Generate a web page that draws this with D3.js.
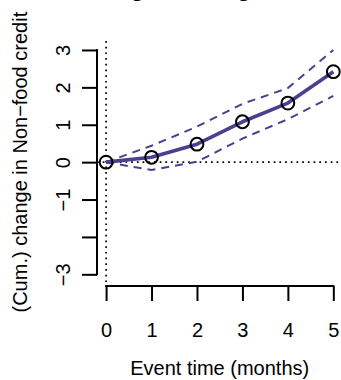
<!DOCTYPE html>
<html>
<head>
<meta charset="utf-8">
<script src="https://cdn.jsdelivr.net/npm/d3@7"></script>
<style>
  html, body { margin: 0; padding: 0; background: #fff; }
  svg { display: block; }
  text { font-family: "Liberation Sans", Arial, Helvetica, sans-serif; fill: #000; }
</style>
</head>
<body>
<svg id="chart" width="341" height="380"></svg>
<script>
// ---- data ----
const titleText = "Foreign lending to NBFCs";
const xLabel = "Event time (months)";
const yLabel = "(Cum.) change in Non\u2212food credit";
const months = [0, 1, 2, 3, 4, 5];
const estimate = [0, 0.13, 0.48, 1.08, 1.58, 2.42];
const upperBand = [0, 0.44, 0.95, 1.56, 1.98, 3.0];
const lowerBand = [0, -0.21, 0.01, 0.63, 1.15, 1.77];
const xTicks = [0, 1, 2, 3, 4, 5];
const xTickLabels = ["0", "1", "2", "3", "4", "5"];
const yTicks = [-3, -2, -1, 0, 1, 2, 3];
const yTickLabels = ["\u22123", "", "\u22121", "0", "1", "2", "3"];

// ---- layout ----
const svg = d3.select("#chart");
const plotLeft = 97, plotRight = 342.4, plotTop = 41, plotBottom = 283.3;
const x = d3.scaleLinear().domain([-0.2, 5.2]).range([plotLeft, plotRight]);
const y = d3.scaleLinear().domain([-3.24, 3.24]).range([plotBottom, plotTop]);
const purple = "#4a3f91";

// reference dotted lines
svg.append("line")
  .attr("x1", x(0)).attr("x2", x(0)).attr("y1", plotTop).attr("y2", plotBottom)
  .attr("stroke", "#000").attr("stroke-width", 1.7).attr("stroke-dasharray", "1.7,4");
svg.append("line")
  .attr("x1", plotLeft).attr("x2", plotRight).attr("y1", y(0)).attr("y2", y(0))
  .attr("stroke", "#000").attr("stroke-width", 1.7).attr("stroke-dasharray", "1.7,4");

// bands
const lineGen = d3.line().x((d, i) => x(months[i])).y(d => y(d));
[upperBand, lowerBand].forEach(arr => {
  svg.append("path").datum(arr).attr("d", lineGen)
    .attr("fill", "none").attr("stroke", purple).attr("stroke-width", 2)
    .attr("stroke-dasharray", "8,6");
});
// estimate
svg.append("path").datum(estimate).attr("d", lineGen)
  .attr("fill", "none").attr("stroke", purple).attr("stroke-width", 3.6)
  .attr("stroke-linejoin", "round");
svg.selectAll("circle.pt").data(estimate).enter().append("circle")
  .attr("class", "pt")
  .attr("cx", (d, i) => x(months[i])).attr("cy", d => y(d)).attr("r", 6.4)
  .attr("fill", "none").attr("stroke", "#000").attr("stroke-width", 2);

// x axis
const xAxisY = 286;
const xAxis = d3.axisBottom(x).tickValues(xTicks).tickSize(15)
  .tickFormat((d, i) => xTickLabels[i]);
const gx = svg.append("g").attr("transform", `translate(0,${xAxisY})`).call(xAxis);
gx.select(".domain").remove();
gx.append("line").attr("x1", x(xTicks[0])).attr("x2", x(xTicks[xTicks.length - 1]))
  .attr("stroke", "#000").attr("stroke-width", 2).attr("stroke-linecap", "square");
gx.selectAll(".tick line").attr("stroke", "#000").attr("stroke-width", 2);
gx.selectAll(".tick text").attr("y", null).attr("dy", null)
  .attr("transform", "translate(0,51)")
  .style("font-size", "20px").attr("fill", "#000");

// y axis
const yAxisX = plotLeft;
const yAxis = d3.axisLeft(y).tickValues(yTicks).tickSize(15)
  .tickFormat((d, i) => yTickLabels[i]);
const gy = svg.append("g").attr("transform", `translate(${yAxisX},0)`).call(yAxis);
gy.select(".domain").remove();
gy.append("line").attr("y1", y(yTicks[0])).attr("y2", y(yTicks[yTicks.length - 1]))
  .attr("stroke", "#000").attr("stroke-width", 2).attr("stroke-linecap", "square");
gy.selectAll(".tick line").attr("stroke", "#000").attr("stroke-width", 2);
gy.selectAll(".tick text").attr("x", null).attr("dy", null)
  .attr("text-anchor", "middle")
  .attr("transform", "translate(-27,0) rotate(-90)")
  .style("font-size", "20px").attr("fill", "#000");

// axis titles
svg.append("text").attr("x", (plotLeft + plotRight) / 2).attr("y", 375)
  .attr("text-anchor", "middle").style("font-size", "20px").text(xLabel);
svg.append("text")
  .attr("transform", `translate(27,${(plotTop + plotBottom) / 2}) rotate(-90)`)
  .attr("text-anchor", "middle").style("font-size", "20px").text(yLabel);

// main title (mostly outside the view, as in the reference)
svg.append("text").attr("x", (plotLeft + plotRight) / 2).attr("y", -4.5)
  .attr("text-anchor", "middle").style("font-size", "24px").style("font-weight", "bold")
  .text(titleText);
</script>
</body>
</html>
